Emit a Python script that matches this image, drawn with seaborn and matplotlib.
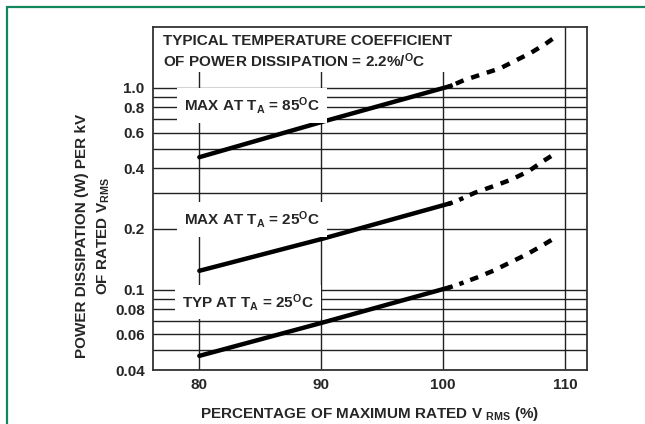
"""Power dissipation vs percentage of rated V_RMS (datasheet style chart)."""

import matplotlib

matplotlib.use("Agg")
import matplotlib.pyplot as plt
from matplotlib.patches import Rectangle
from matplotlib.ticker import FixedLocator, FixedFormatter, NullFormatter
import seaborn as sns

# solid (characterised) part of each curve
SOLID_X = [80, 90, 100.6]
MAX85_SOLID = [0.453, 0.676, 1.02]
MAX25_SOLID = [0.124, 0.178, 0.268]
TYP25_SOLID = [0.047, 0.0684, 0.103]

# dashed (extrapolated) part of each curve
MAX85_DASH_X = [100.6, 101.7, 104.7, 107.2, 108.4, 109.5]
MAX85_DASH = [1.02, 1.09, 1.25, 1.49, 1.65, 1.84]
MAX25_DASH_X = [100.6, 101.4, 102.6, 104.1, 105.6, 107.0, 108.2, 109.4]
MAX25_DASH = [0.268, 0.280, 0.302, 0.325, 0.351, 0.386, 0.433, 0.481]
TYP25_DASH_X = [100.6, 101.4, 102.8, 104.1, 106.9, 108.1, 109.4]
TYP25_DASH = [0.103, 0.107, 0.115, 0.124, 0.150, 0.165, 0.184]

X_TICKS = [80, 90, 100, 110]
Y_TICKS = [0.04, 0.06, 0.08, 0.1, 0.2, 0.4, 0.6, 0.8, 1.0]
Y_TICK_LABELS = ["0.04", "0.06", "0.08", "0.1", "0.2", "0.4", "0.6", "0.8", "1.0"]
Y_GRID_EXTRA = [0.05, 0.07, 0.09, 0.3, 0.5, 0.7, 0.9]

CURVE_LABELS = [
    (84.3, 0.815, r"MAX AT T$_{A}$ = 85$^{O}$C"),
    (84.3, 0.222, r"MAX AT T$_{A}$ = 25$^{O}$C"),
    (84.0, 0.0868, r"TYP AT T$_{A}$ = 25$^{O}$C"),
]
NOTE = "TYPICAL TEMPERATURE COEFFICIENT\nOF POWER DISSIPATION = 2.2%/$^{O}$C"

sns.set_style("white")
plt.rcParams["font.family"] = ["Liberation Sans", "DejaVu Sans"]
plt.rcParams["font.weight"] = "bold"
plt.rcParams["mathtext.fontset"] = "custom"
plt.rcParams["mathtext.rm"] = "Liberation Sans:bold"
plt.rcParams["mathtext.bf"] = "Liberation Sans:bold"
plt.rcParams["mathtext.it"] = "Liberation Sans:bold"
plt.rcParams["mathtext.default"] = "bf"

fig = plt.figure(figsize=(6.45, 4.24), dpi=100)
ax = fig.add_axes([153 / 645, 1 - 370 / 424, 434 / 645, 343 / 424])

line_kw = dict(color="black", linewidth=3.2, zorder=2)
dash_kw = dict(dash_capstyle="projecting", dash_joinstyle="round", **line_kw)
first_dot = (0.01, 2.6, 0.01, 2.6) + (0.9, 2.8) * 8
all_dash = (0.01, 1.8) + (0.9, 2.8) * 9

sns.lineplot(x=SOLID_X, y=MAX85_SOLID, ax=ax, **line_kw)
sns.lineplot(x=SOLID_X, y=MAX25_SOLID, ax=ax, **line_kw)
sns.lineplot(x=SOLID_X, y=TYP25_SOLID, ax=ax, **line_kw)
sns.lineplot(x=MAX85_DASH_X, y=MAX85_DASH, ax=ax, sort=False,
             linestyle=(0, all_dash), **dash_kw)
sns.lineplot(x=MAX25_DASH_X, y=MAX25_DASH, ax=ax, sort=False,
             linestyle=(0, first_dot), **dash_kw)
sns.lineplot(x=TYP25_DASH_X, y=TYP25_DASH, ax=ax, sort=False,
             linestyle=(0, first_dot), **dash_kw)

ax.set_yscale("log")
ax.set_xlim(76.2, 111.8)
ax.set_ylim(0.04, 2.0)

ax.xaxis.set_major_locator(FixedLocator(X_TICKS))
ax.yaxis.set_major_locator(FixedLocator(Y_TICKS))
ax.yaxis.set_major_formatter(FixedFormatter(Y_TICK_LABELS))
ax.yaxis.set_minor_locator(FixedLocator(Y_GRID_EXTRA))
ax.yaxis.set_minor_formatter(NullFormatter())
ax.tick_params(axis="both", which="both", length=0, labelsize=11, pad=6)
for lab in ax.get_xticklabels() + ax.get_yticklabels():
    lab.set_fontweight("bold")

ax.set_axisbelow(True)
ax.grid(True, which="both", color="#222222", linewidth=1.0)
for spine in ax.spines.values():
    spine.set_color("#333333")
    spine.set_linewidth(1.3)

# white area behind the note hides the upper part of the vertical grid
ax.add_patch(Rectangle((0, 0.869), 0.714, 0.131, transform=ax.transAxes,
                       facecolor="white", edgecolor="none", zorder=1))
ax.text(0.023, 0.98, NOTE, transform=ax.transAxes, ha="left", va="top",
        fontsize=11, fontweight="bold", linespacing=1.2, zorder=3)

for x, y, txt in CURVE_LABELS:
    ax.text(x, y, txt, ha="center", va="center", fontsize=11, fontweight="bold",
            zorder=3, bbox=dict(facecolor="white", edgecolor="none", pad=5))

ax.set_xlabel(r"PERCENTAGE OF MAXIMUM RATED V $_{RMS}$ (%)", fontsize=11,
              fontweight="bold", va="center")
ax.xaxis.set_label_coords(0.5, -0.128)
ax.set_ylabel("POWER DISSIPATION (W) PER kV\nOF RATED V$_{RMS}$", fontsize=11,
              fontweight="bold", ha="center", va="center", linespacing=1.6)
ax.yaxis.set_label_coords(-0.137, 0.39)

# green frame of the page
fig.add_artist(Rectangle((7 / 645, -0.2), 1.5, 1.2 - 7 / 424,
                         transform=fig.transFigure, fill=False,
                         edgecolor="#12875c", linewidth=1.6))

fig.savefig("out.png", dpi=100)
